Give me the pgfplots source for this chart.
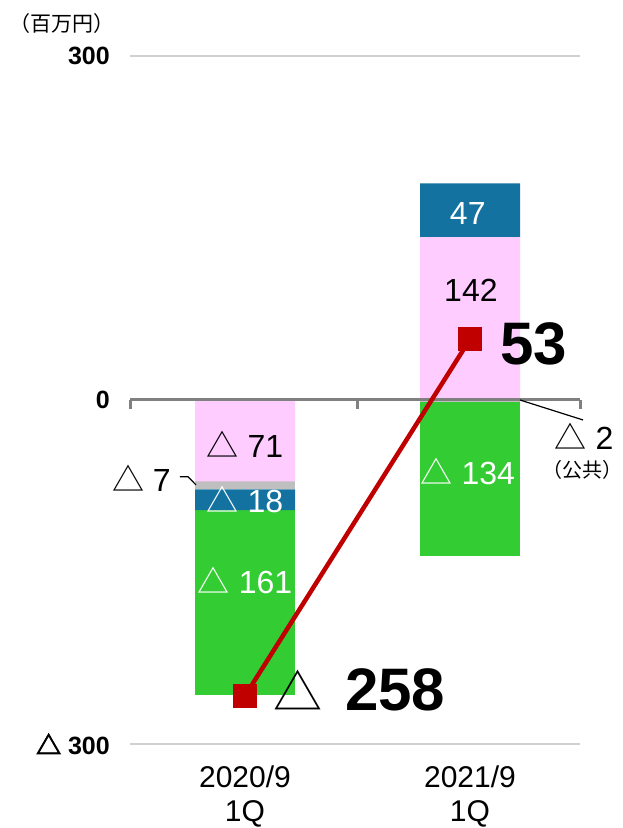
\documentclass[border=0pt]{standalone}
\usepackage{fontspec}
\setmainfont{Liberation Sans}
\newfontfamily\jp{Noto Sans CJK JP}
\newfontfamily\jpb[FakeBold=3]{Noto Sans CJK JP}
\usepackage{pgfplots}
\pgfplotsset{compat=1.18}
\definecolor{cpink}{HTML}{FFCCFF}
\definecolor{cgray}{HTML}{BFBFBF}
\definecolor{cblue}{HTML}{13729F}
\definecolor{cgreen}{HTML}{33CC33}
\definecolor{cred}{HTML}{C00000}
\definecolor{czero}{HTML}{808080}
\definecolor{cgrid}{HTML}{D0D0D0}
\newcommand{\tri}{{\jp △}}
\pgfplotsset{myax/.style={width=450pt,height=688pt,scale only axis,
  xmin=-0.5111,xmax=1.4889,ymin=-300,ymax=300,clip=false,
  at={(0,0)},anchor=south west}}
\begin{document}
\begin{tikzpicture}
% axis 1: grid, ticks, 2020 stack and 2021 positive stack
\begin{axis}[myax, ybar stacked, bar width=100pt,
  axis line style={draw=none}, major tick length=0pt,
  ytick={-300,0,300}, yticklabels={{\jpb △}\ 300,0,300},
  yticklabel style={font=\fontsize{25}{30}\selectfont\bfseries, anchor=east, inner sep=0pt, xshift=-20pt},
  ymajorgrids, grid style={draw=cgrid, line width=2pt},
  xtick={0,1}, xticklabels={2020/9\\1Q,2021/9\\1Q},
  xticklabel style={font=\fontsize{30}{34}\selectfont, align=center, inner sep=0pt, anchor=north, yshift=-22pt},
  ]
\addplot[fill=cpink, draw=none] coordinates {(0,-71) (1,142)};
\addplot[fill=cgray, draw=none] coordinates {(0,-7) (1,0)};
\addplot[fill=cblue, draw=none] coordinates {(0,-18) (1,47)};
\addplot[fill=cgreen, draw=none] coordinates {(0,-161) (1,0)};
\end{axis}
% axis 2: 2021 negative stack
\begin{axis}[myax, ybar stacked, bar width=100pt, hide axis]
\addplot[fill=cgray, draw=none] coordinates {(0,0) (1,-2)};
\addplot[fill=cgreen, draw=none] coordinates {(0,0) (1,-134)};
\end{axis}
% axis 3: zero line, total line and labels
\begin{axis}[myax, hide axis]
\draw[czero, line width=3pt] (axis cs:-0.5111,0) -- (axis cs:1.4889,0);
\draw[czero, line width=3pt] (axis cs:-0.5111,0) -- ++(0pt,-9pt);
\draw[czero, line width=3pt] (axis cs:0.5,0) -- ++(0pt,-9pt);
\draw[czero, line width=3pt] (axis cs:1.4889,0) -- ++(0pt,-9pt);
\addplot[cred, line width=4.5pt, mark=square*, mark size=11.5pt,
  mark options={line width=0pt}] coordinates {(0,-258) (1,53)};
% invisible frame for picture size
\path (axis cs:-1.0889,348.84) rectangle (axis cs:1.6667,-373.26);
\node[font=\jp\fontsize{21}{24}\selectfont, inner sep=0pt] at (axis cs:-0.813,328) {（百万円）};
% 2020 labels
\node[font=\fontsize{32}{36}\selectfont, inner sep=0pt] at (axis cs:0,-39) {\tri\ 71};
\node[font=\fontsize{32}{36}\selectfont, inner sep=0pt, text=white] at (axis cs:0,-86.5) {\tri\ 18};
\node[font=\fontsize{32}{36}\selectfont, inner sep=0pt, text=white] at (axis cs:0,-157) {\tri\ 161};
\node[font=\fontsize{32}{36}\selectfont, inner sep=0pt, anchor=east] at (axis cs:-0.329,-68.5) {\tri\ 7};
\draw[black, line width=1.2pt] (axis cs:-0.289,-67) -- (axis cs:-0.253,-67) -- (axis cs:-0.218,-74);
% 2021 labels
\node[font=\fontsize{32}{36}\selectfont, inner sep=0pt, text=white] at (axis cs:0.99,163) {47};
\node[font=\fontsize{32}{36}\selectfont, inner sep=0pt] at (axis cs:1.004,96) {142};
\node[font=\fontsize{32}{36}\selectfont, inner sep=0pt, text=white] at (axis cs:0.99,-62) {\tri\ 134};
\node[font=\fontsize{32}{36}\selectfont, inner sep=0pt] at (axis cs:1.507,-31.4) {\tri\ 2};
\node[font=\jp\fontsize{20}{22}\selectfont, inner sep=0pt] at (axis cs:1.502,-61) {（公共）};
\draw[black, line width=1.2pt] (axis cs:1.222,0) -- (axis cs:1.502,-17.4);
% totals
\node[font=\fontsize{60}{64}\selectfont\bfseries, inner sep=0pt, anchor=west] at (axis cs:1.133,48.8) {53};
\node[font=\jp\fontsize{49}{52}\selectfont, inner sep=0pt] at (axis cs:0.2356,-253.3) {△};
\node[font=\fontsize{60}{64}\selectfont\bfseries, inner sep=0pt, anchor=west] at (axis cs:0.4444,-252.5) {258};
\end{axis}
\end{tikzpicture}
\end{document}
